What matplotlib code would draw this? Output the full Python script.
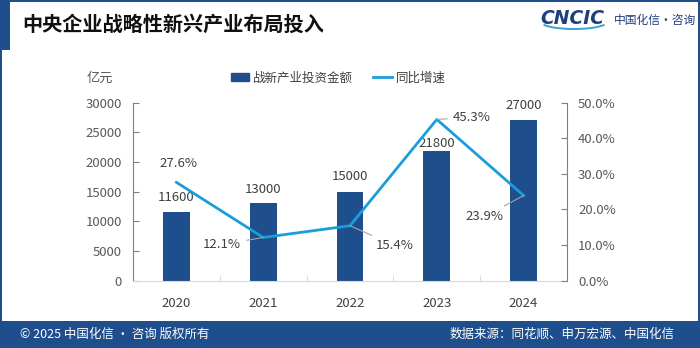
import matplotlib.pyplot as plt
import matplotlib.patches as mpatches
from matplotlib.lines import Line2D
from matplotlib.ticker import FuncFormatter, FixedLocator

plt.rcParams['font.family'] = ['Noto Sans CJK SC', 'DejaVu Sans']

years = ["2020", "2021", "2022", "2023", "2024"]
invest = [11600, 13000, 15000, 21800, 27000]   # 亿元
growth = [27.6, 12.1, 15.4, 45.3, 23.9]        # %

# label offsets in pixels (layout only)
bar_lab_dy = [14, 14, 15, 8, 15]
line_lab_off = [(2, 19), (-41, -7), (45, -20), (35, 2), (-39, -21)]
line_leader = [False, True, True, True, True]

NAVY = "#1f4e8c"
LINE = "#1b9dd9"
GREY = "#595959"
W, H = 700, 348

fig = plt.figure(figsize=(7, 3.48), dpi=100)

# frame / header / footer decorations (pixel -> figure coords)
def px_rect(x0, y0, x1, y1, color):
    fig.patches.append(mpatches.Rectangle((x0 / W, 1 - y1 / H), (x1 - x0) / W, (y1 - y0) / H,
                                          transform=fig.transFigure, color=color, lw=0, zorder=0))

px_rect(0, 0, W, 1.5, NAVY)          # top line
px_rect(0, 0, 10, 50, NAVY)          # thick header bar
px_rect(0, 0, 2, H, NAVY)            # left border
px_rect(W - 2, 0, W, H, NAVY)        # right border
px_rect(0, 321, W, H, NAVY)          # footer band

fig.text(22 / W, 1 - 24 / H, "中央企业战略性新兴产业布局投入", fontsize=14.5,
         fontweight="bold", color="#111111", va="center", ha="left")

# logo
fig.patches.append(mpatches.Arc((574 / W, 1 - 22 / H), 66 / W, 14 / H, theta1=190, theta2=350,
                                transform=fig.transFigure, color="#3aa0d8", lw=1.4))
fig.text(540 / W, 1 - 19 / H, "CNCIC", fontsize=13.5, fontweight="bold", style="italic",
         color="#1f3f7a", va="center", ha="left", family="DejaVu Sans")
fig.text(614 / W, 1 - 20 / H, "中国化信·咨询", fontsize=8.5, color="#1f3f7a",
         va="center", ha="left")

# footer text
fig.text(20 / W, 14 / H, "© 2025 中国化信 · 咨询 版权所有", fontsize=9, color="white",
         va="center", ha="left")
fig.text(675 / W, 14 / H, "数据来源：同花顺、申万宏源、中国化信", fontsize=9, color="white",
         va="center", ha="right")

# plot area
ax = fig.add_axes([133 / W, 1 - 280.5 / H, (567 - 133) / W, (280.5 - 102.7) / H])
ax2 = ax.twinx()
x = list(range(len(years)))

ax.bar(x, invest, width=0.31, color=NAVY, zorder=2)
ax.set_xlim(-0.5, len(years) - 0.5)
ax.set_ylim(0, 30000)
ax.set_yticks(range(0, 30001, 5000))
ax.set_xticks(x)
ax.set_xticklabels(years)
ax.xaxis.set_minor_locator(FixedLocator([0.5, 1.5, 2.5, 3.5]))
ax.tick_params(axis="x", which="major", length=0, pad=12, labelsize=9.5, labelcolor="#404040")
ax.tick_params(axis="x", which="minor", length=4, direction="in", color="#d9d9d9")
ax.tick_params(axis="y", direction="in", length=4, color="#7f7f7f", labelsize=9.5,
               labelcolor=GREY, pad=8)

for s in ["top", "right"]:
    ax.spines[s].set_visible(False)
ax.spines["left"].set_color("#7f7f7f")
ax.spines["bottom"].set_color("#d9d9d9")

for i, v in enumerate(invest):
    ax.annotate(str(v), xy=(i, v), xytext=(0, bar_lab_dy[i]), textcoords="offset pixels",
                ha="center", va="center", fontsize=9.5, color="#404040")

ax2.plot(x, growth, color=LINE, lw=2, zorder=3)
ax2.set_ylim(0, 50)
ax2.set_yticks(range(0, 51, 10))
ax2.yaxis.set_major_formatter(FuncFormatter(lambda v, p: f"{v:.1f}%"))
ax2.tick_params(axis="y", direction="in", length=4, color="#7f7f7f", labelsize=9.5,
                labelcolor=GREY, pad=8)
for s in ["top", "left", "bottom"]:
    ax2.spines[s].set_visible(False)
ax2.spines["right"].set_color("#7f7f7f")

for i, g in enumerate(growth):
    arrow = dict(arrowstyle="-", color="#a6a6a6", lw=0.8, shrinkA=2, shrinkB=0) if line_leader[i] else None
    ax2.annotate(f"{g}%", xy=(i, g), xytext=line_lab_off[i], textcoords="offset pixels",
                 ha="center", va="center", fontsize=9.5, color="#404040", arrowprops=arrow)

fig.text(100 / W, 1 - 78 / H, "亿元", fontsize=9.5, color=GREY, ha="center", va="center")

handles = [mpatches.Patch(color=NAVY), Line2D([], [], color=LINE, lw=2)]
fig.legend(handles, ["战新产业投资金额", "同比增速"], loc="center",
           bbox_to_anchor=(338 / W, 1 - 78 / H), ncol=2, frameon=False, fontsize=9,
           handlelength=1.5, handleheight=0.6, columnspacing=1.6, handletextpad=0.3,
           labelcolor="#404040")

fig.savefig("out.png", dpi=100)
